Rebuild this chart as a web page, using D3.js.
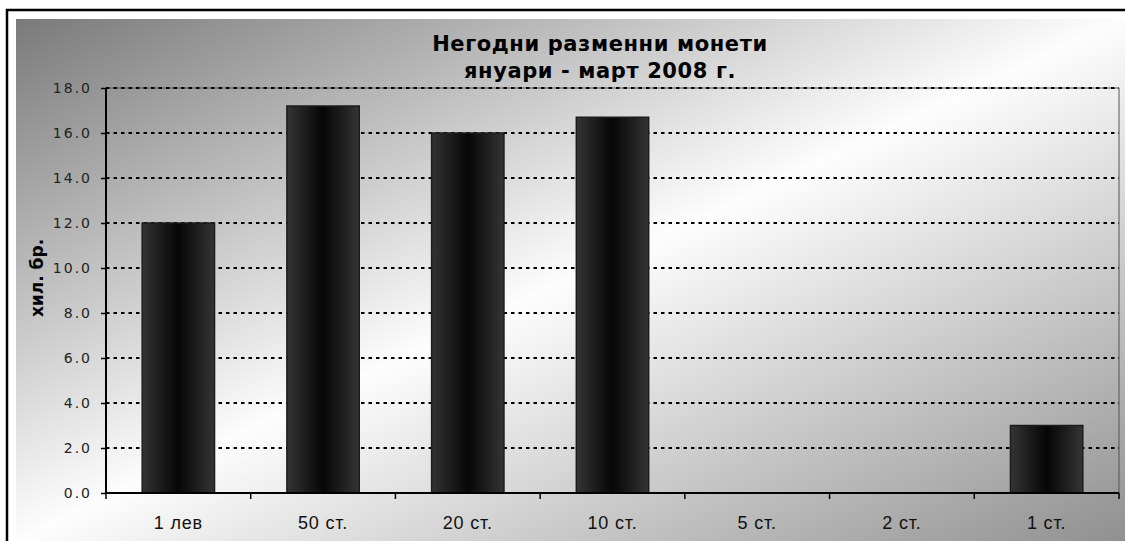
<!DOCTYPE html>
<html>
<head>
<meta charset="utf-8">
<script src="https://cdn.jsdelivr.net/npm/d3@7"></script>
<style>
  body { margin: 0; background: #fff; }
  svg { display: block; }
</style>
</head>
<body>
<svg id="chart"></svg>
<script>
// data
const categories = ['1 лев', '50 ст.', '20 ст.', '10 ст.', '5 ст.', '2 ст.', '1 ст.'];
const values = [12.0, 17.2, 16.0, 16.7, 0, 0, 3.0];
const yTicks = [0, 2, 4, 6, 8, 10, 12, 14, 16, 18];
const titleLines = ['Негодни разменни монети', 'януари - март 2008 г.'];
const yLabel = 'хил. бр.';

class BarChart {

  constructor(_config, _cats, _vals) {
    this.config = {
      parentElement: _config.parentElement,
      containerWidth: _config.containerWidth || 1125,
      containerHeight: _config.containerHeight || 541,
      margin: { top: 88, bottom: 48, right: 6, left: 106 }
    }
    this.cats = _cats;
    this.vals = _vals;
    this.initVis();
  }

  initVis() {
    let vis = this;
    let m = vis.config.margin;
    vis.width = vis.config.containerWidth - m.left - m.right;
    vis.height = vis.config.containerHeight - m.top - m.bottom;

    vis.svg = d3.select(vis.config.parentElement)
      .attr('width', vis.config.containerWidth)
      .attr('height', vis.config.containerHeight);

    let defs = vis.svg.append('defs');
    let bg = defs.append('linearGradient').attr('id', 'bgGrad')
      .attr('x1', 0).attr('y1', 0).attr('x2', 1).attr('y2', 1);
    bg.append('stop').attr('offset', '0%').attr('stop-color', '#7a7a7a');
    bg.append('stop').attr('offset', '50%').attr('stop-color', '#fdfdfd');
    bg.append('stop').attr('offset', '100%').attr('stop-color', '#909090');

    let barG = defs.append('linearGradient').attr('id', 'barGrad')
      .attr('x1', 0).attr('y1', 0).attr('x2', 1).attr('y2', 0);
    barG.append('stop').attr('offset', '0%').attr('stop-color', '#343434');
    barG.append('stop').attr('offset', '50%').attr('stop-color', '#060606');
    barG.append('stop').attr('offset', '100%').attr('stop-color', '#343434');

    // frame + background
    vis.svg.append('rect')
      .attr('x', 7).attr('y', 10)
      .attr('width', 1125).attr('height', 541)
      .attr('fill', '#fff').attr('stroke', '#000').attr('stroke-width', 2.5);
    vis.svg.append('rect')
      .attr('x', 16).attr('y', 19)
      .attr('width', 1109).attr('height', 522)
      .attr('fill', 'url(#bgGrad)');

    vis.x = d3.scaleBand().domain(vis.cats).range([0, vis.width]).paddingInner(0.5).paddingOuter(0.25);
    vis.y = d3.scaleLinear().domain([0, 18]).range([vis.height, 0]);

    vis.chart = vis.svg.append('g')
      .attr('transform', `translate(${m.left},${m.top})`);

    // plot border top/right
    vis.chart.append('path')
      .attr('d', `M0,0H${vis.width}V${vis.height}`)
      .attr('fill', 'none').attr('stroke', '#555').attr('stroke-width', 1);

    // grid
    vis.chart.selectAll('.grid')
      .data(yTicks.filter(d => d > 0))
      .enter().append('line')
      .attr('class', 'grid')
      .attr('x1', 0).attr('x2', vis.width)
      .attr('y1', d => vis.y(d)).attr('y2', d => vis.y(d))
      .attr('stroke', '#000').attr('stroke-width', 2)
      .attr('stroke-dasharray', '3.5,4');

    // bars
    vis.chart.selectAll('.bar')
      .data(vis.vals)
      .enter().append('rect')
      .attr('class', 'bar')
      .attr('x', (d, i) => vis.x(vis.cats[i]))
      .attr('width', vis.x.bandwidth())
      .attr('y', d => vis.y(d))
      .attr('height', d => vis.height - vis.y(d))
      .attr('fill', 'url(#barGrad)')
      .attr('stroke', '#1c1c1c').attr('stroke-width', 1.5)
      .attr('display', d => d > 0 ? null : 'none');

    // y axis
    let yAxis = d3.axisLeft(vis.y).tickValues(yTicks).tickSize(5).tickPadding(9)
      .tickFormat(d3.format('.1f'));
    let yg = vis.chart.append('g').call(yAxis);
    yg.select('.domain').attr('stroke-width', 2).attr('d', `M0,${vis.height}V0`);
    yg.selectAll('.tick line').attr('stroke-width', 1.5);
    yg.selectAll('text')
      .style('font-family', "'DejaVu Sans', Verdana, sans-serif")
      .style('font-size', '14px')
      .style('letter-spacing', '2px')
      .attr('fill', '#222');

    // x axis, ticks at band edges
    let xg = vis.chart.append('g').attr('transform', `translate(0,${vis.height})`);
    xg.append('line').attr('x1', 0).attr('x2', vis.width)
      .attr('stroke', '#000').attr('stroke-width', 2);
    let step = vis.x.step();
    xg.selectAll('.xtick')
      .data(d3.range(vis.cats.length + 1))
      .enter().append('line')
      .attr('x1', i => i * step).attr('x2', i => i * step)
      .attr('y1', 0).attr('y2', 6)
      .attr('stroke', '#000').attr('stroke-width', 1.5);
    xg.selectAll('.xlabel')
      .data(vis.cats)
      .enter().append('text')
      .attr('x', d => vis.x(d) + vis.x.bandwidth() / 2)
      .attr('y', 36)
      .attr('text-anchor', 'middle')
      .style('font-family', "'Liberation Sans', Arial, sans-serif")
      .style('font-size', '18px')
      .style('letter-spacing', '0.8px')
      .attr('fill', '#111')
      .text(d => d);

    // title
    vis.svg.selectAll('.title')
      .data(titleLines)
      .enter().append('text')
      .attr('class', 'title')
      .attr('x', 600)
      .attr('y', (d, i) => 51 + i * 27)
      .attr('text-anchor', 'middle')
      .style('font-family', "'DejaVu Sans', Verdana, sans-serif")
      .style('font-weight', 'bold')
      .style('font-size', '21px')
      .style('letter-spacing', '0.6px')
      .text(d => d);

    // y label
    vis.svg.append('text')
      .attr('transform', `translate(43,278) rotate(-90)`)
      .attr('text-anchor', 'middle')
      .style('font-family', "'DejaVu Sans', Verdana, sans-serif")
      .style('font-weight', 'bold')
      .style('font-size', '17px')
      .text(yLabel);
  }
}

new BarChart({ parentElement: '#chart' }, categories, values);
</script>
</body>
</html>
